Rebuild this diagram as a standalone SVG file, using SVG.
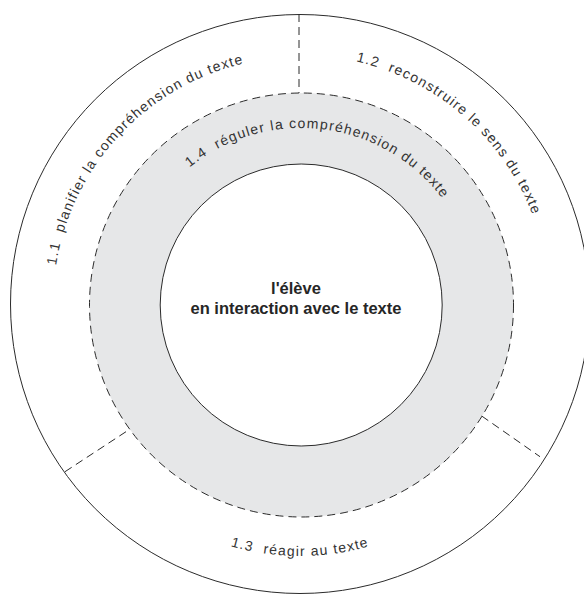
<svg xmlns="http://www.w3.org/2000/svg" width="584" height="594" viewBox="0 0 584 594">
  <style>
    .solid { fill: none; stroke: #2b2b2b; stroke-width: 1; }
    .dash { fill: none; stroke: #2b2b2b; stroke-width: 1; stroke-dasharray: 8 5; }
    .lbl { font-family: "Liberation Sans", Arial, sans-serif; font-size: 14px; letter-spacing: 1.2px; fill: #333333; white-space: pre; }
    .ctr { font-family: "Liberation Sans", Arial, sans-serif; font-size: 16.5px; font-weight: bold; fill: #262626; text-anchor: middle; }
  </style>
  <defs>
    <path id="p11" d="M 56.04 265.36 A 247 247 0 0 1 321.53 57.94"/>
    <path id="p12" d="M 356.01 61.38 A 249 249 0 0 1 549 304"/>
    <path id="p14" d="M 189.6 167.4 A 177 177 0 0 1 467.33 244.46"/>
    <path id="p13" d="M 174 522.24 A 252 252 0 0 0 426 522.24"/>
  </defs>
  <rect x="0" y="0" width="584" height="594" fill="#ffffff"/>

  <g id="outer-circle">
    <circle class="solid" cx="300" cy="304" r="289.5"/>
  </g>

  <g id="node-1-4">
    <circle cx="301.5" cy="305" r="212" fill="#e6e7e8" stroke="#2b2b2b" stroke-width="1" stroke-dasharray="8 5"/>
    <text class="lbl" xml:space="preserve"><textPath href="#p14">1.4  réguler la compréhension du texte</textPath></text>
  </g>

  <g id="node-center">
    <circle cx="301.2" cy="305" r="141" fill="#ffffff" stroke="#2b2b2b" stroke-width="1"/>
    <text class="ctr" x="296" y="294">l'élève</text>
    <text class="ctr" x="296" y="313.5">en interaction avec le texte</text>
  </g>

  <g id="connectors">
    <line class="dash" x1="299" y1="14" x2="299" y2="93"/>
    <line class="dash" x1="65" y1="471.7" x2="126" y2="431.7"/>
    <line class="dash" x1="481.7" y1="416" x2="540" y2="456.7"/>
  </g>

  <g id="node-1-1">
    <text class="lbl" xml:space="preserve"><textPath href="#p11">1.1  planifier la compréhension du texte</textPath></text>
  </g>
  <g id="node-1-2">
    <text class="lbl" xml:space="preserve"><textPath href="#p12">1.2  reconstruire le sens du texte</textPath></text>
  </g>
  <g id="node-1-3">
    <text class="lbl" text-anchor="middle" xml:space="preserve"><textPath href="#p13" startOffset="50%">1.3  réagir au texte</textPath></text>
  </g>
</svg>
